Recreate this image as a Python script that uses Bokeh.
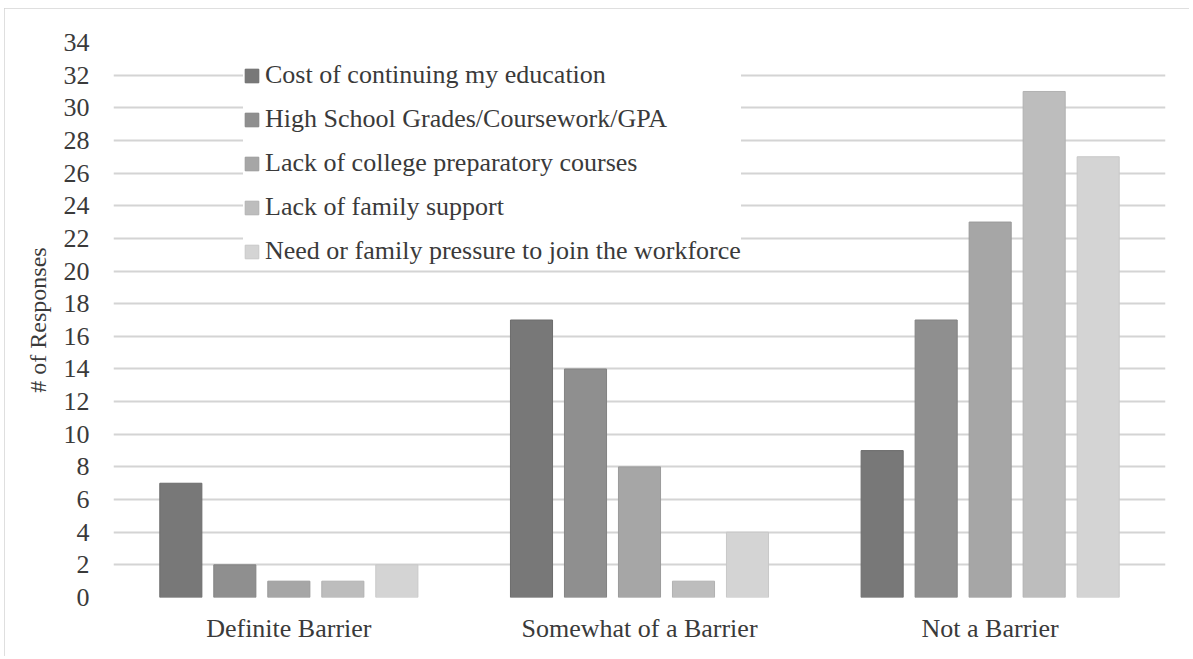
from bokeh.plotting import figure
from bokeh.models import FactorRange, Range1d, ColumnDataSource, FixedTicker, Legend, LegendItem
from bokeh.transform import dodge
from bokeh.embed import file_html
from bokeh.resources import INLINE

categories = ["Definite Barrier", "Somewhat of a Barrier", "Not a Barrier"]
series_names = [
    "Cost of continuing my education",
    "High School Grades/Coursework/GPA",
    "Lack of college preparatory courses",
    "Lack of family support",
    "Need or family pressure to join the workforce",
]
cost = [7, 17, 9]
grades = [2, 14, 17]
prep_courses = [1, 8, 23]
family_support = [1, 1, 31]
workforce = [2, 4, 27]
y_ticks = [0, 2, 4, 6, 8, 10, 12, 14, 16, 18, 20, 22, 24, 26, 28, 30, 32, 34]

fills = ["#787878", "#8f8f8f", "#a6a6a6", "#bdbdbd", "#d4d4d4"]
lines = ["#6c6c6c", "#838383", "#9a9a9a", "#b1b1b1", "#c8c8c8"]
offsets = [-0.308, -0.154, 0.0, 0.154, 0.308]

FONT = "'Liberation Serif', 'Times New Roman', serif"
TXT = "#3a3a3a"

src = ColumnDataSource(dict(cat=categories, s0=cost, s1=grades, s2=prep_courses,
                            s3=family_support, s4=workforce))

p = figure(x_range=FactorRange(*categories, range_padding=0),
           y_range=Range1d(0, 34),
           width=1185, height=648,
           output_backend="svg", toolbar_location=None,
           min_border_left=109, min_border_right=24,
           min_border_top=34, min_border_bottom=59)
p.margin = (8, 4, 3, 4)
p.styles = {"outline": "3px solid #d4d4d4", "outline-offset": "-3px"}
p.outline_line_color = None
p.background_fill_color = "white"
p.border_fill_color = "white"

renderers = []
for i in range(5):
    r = p.vbar(x=dodge("cat", offsets[i], range=p.x_range), top="s%d" % i, width=0.12,
               source=src, fill_color=fills[i], line_color=lines[i], line_width=1)
    renderers.append(r)

p.xgrid.grid_line_color = None
p.ygrid.grid_line_color = "#d4d4d4"
p.ygrid.grid_line_width = 2

p.yaxis.ticker = FixedTicker(ticks=y_ticks)
p.yaxis.axis_line_color = None
p.yaxis.major_tick_line_color = None
p.yaxis.minor_tick_line_color = None
p.yaxis.major_tick_out = 0
p.yaxis.major_tick_in = 0
p.yaxis.major_label_standoff = 24
p.yaxis.major_label_text_font = FONT
p.yaxis.major_label_text_font_size = "26px"
p.yaxis.major_label_text_color = TXT
p.yaxis.axis_label = "# of Responses"
p.yaxis.axis_label_text_font = FONT
p.yaxis.axis_label_text_font_size = "24px"
p.yaxis.axis_label_text_font_style = "normal"
p.yaxis.axis_label_text_color = TXT
p.yaxis.axis_label_standoff = 10

p.xaxis.axis_line_color = None
p.xaxis.major_tick_line_color = None
p.xaxis.major_tick_out = 0
p.xaxis.major_tick_in = 0
p.xaxis.major_label_standoff = 16
p.xaxis.major_label_text_font = FONT
p.xaxis.major_label_text_font_size = "26px"
p.xaxis.major_label_text_color = TXT

legend = Legend(items=[LegendItem(label=series_names[i], renderers=[renderers[i]]) for i in range(5)],
                location=(130, 331), orientation="vertical")
legend.label_text_font = FONT
legend.label_text_font_size = "26px"
legend.label_text_color = TXT
legend.label_height = 30
legend.glyph_height = 17
legend.glyph_width = 17
legend.label_standoff = 5
legend.spacing = 14
legend.padding = 15
legend.margin = 0
legend.border_line_color = None
legend.background_fill_color = "white"
legend.background_fill_alpha = 1.0
p.add_layout(legend, "center")

open("out.html", "w").write(file_html(p, INLINE))
